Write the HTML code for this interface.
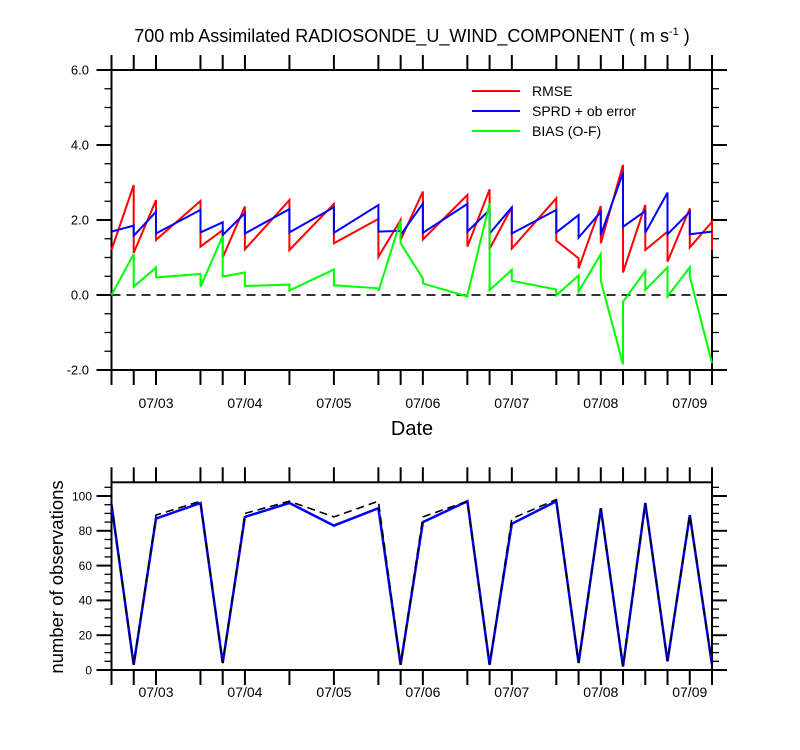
<!DOCTYPE html>
<html><head><meta charset="utf-8"><style>
body{margin:0;background:#fff;}
svg{display:block;font-family:"Liberation Sans",sans-serif;}
</style></head><body>
<svg id="chart" width="800" height="750" viewBox="0 0 800 750" xmlns="http://www.w3.org/2000/svg">
<text x="412" y="42" font-size="18" text-anchor="middle">700 mb Assimilated RADIOSONDE_U_WIND_COMPONENT ( m s<tspan font-size="11" dy="-7">-1</tspan><tspan dy="7"> )</tspan></text>
<text x="412" y="435" font-size="20" text-anchor="middle">Date</text>
<text transform="translate(63,577) rotate(-90)" font-size="18.5" text-anchor="middle">number of observations</text>
<g id="topPanel"></g>
<g id="botPanel"></g>
<g>
<line x1="472" y1="91" x2="520" y2="91" stroke="#ff0000" stroke-width="2"/>
<text x="532" y="96" font-size="14">RMSE</text>
<line x1="472" y1="111" x2="520" y2="111" stroke="#0000ff" stroke-width="2"/>
<text x="532" y="116" font-size="14">SPRD + ob error</text>
<line x1="472" y1="131" x2="520" y2="131" stroke="#00ff00" stroke-width="2"/>
<text x="532" y="136" font-size="14">BIAS (O-F)</text>
</g>
</svg>
<script>
const NS="http://www.w3.org/2000/svg";
// hours since 07/02 12Z
const obsTimes=[0,6,12,24,30,36,48,60,72,78,84,96,102,108,120,126,132,138,144,150,156,162];
const dateLabels=["07/03","07/04","07/05","07/06","07/07","07/08","07/09"];
const dateHours=[12,36,60,84,108,132,156];
const rmseArrive=[null,2.93,2.53,2.51,1.73,2.36,2.53,2.43,2.03,2.0,2.76,2.67,2.82,2.34,2.58,0.98,2.37,3.47,2.4,1.69,2.31,1.95];
const rmseLeave=[1.2,1.12,1.47,1.29,1.0,1.22,1.2,1.38,1.02,1.47,1.48,1.29,1.23,1.24,1.45,0.71,1.38,0.6,1.2,0.89,1.27,1.2];
const sprdArrive=[null,1.85,2.22,2.27,1.94,2.18,2.29,2.34,2.4,1.71,2.44,2.43,2.27,2.34,2.27,2.13,2.22,3.26,2.24,2.73,2.22,1.69];
const sprdLeave=[1.69,1.58,1.64,1.67,1.6,1.64,1.67,1.66,1.69,1.6,1.66,1.69,1.64,1.64,1.67,1.53,1.6,1.82,1.66,1.62,1.62,1.69];
const biasArrive=[null,1.09,0.73,0.56,1.57,0.6,0.28,0.68,0.18,1.98,0.44,-0.04,2.44,0.67,0.15,0.52,1.09,-1.85,0.64,0.74,0.74,-1.82];
const biasLeave=[0.0,0.22,0.47,0.22,0.49,0.24,0.12,0.26,0.1,1.38,0.31,0.0,0.13,0.38,-0.01,0.09,0.38,-0.18,0.13,-0.04,0.49,-1.82];
const obsUsed=[95,3,87,96,4,88,96,83,93,3,85,97,3,84,97,4,93,2,96,5,89,3];
const obsTotal=[96,3,89,97,4,90,97,88,97,3,88,97,3,87,98,4,93,2,96,5,89,3];
const topYTicks=[6,4,2,0,-2];
const botYTicks=[0,20,40,60,80,100];

const X0=111.5,X1=712,T1=162;
const xs=t=>X0+(X1-X0)*t/T1;
const yTop=v=>295-37.5*v;
const yBot=v=>670-1.74*v;

function mk(tag,attrs,parent){const e=document.createElementNS(NS,tag);for(const k in attrs)e.setAttribute(k,attrs[k]);parent.appendChild(e);return e;}

function panel(g,yTopPx,yBotPx,yScale,vmin,vmax,minorStep,majorStep,labelY){
  const r=mk('rect',{x:X0,y:yTopPx,width:X1-X0,height:yBotPx-yTopPx,fill:'none',stroke:'#000','stroke-width':2},g);
  
  
  obsTimes.forEach(t=>{
    const x=xs(t);
    const a=mk('line',{x1:x,y1:yTopPx,x2:x,y2:yTopPx-15,stroke:'#000','stroke-width':2},g);
    
    
    const b=mk('line',{x1:x,y1:yBotPx,x2:x,y2:yBotPx+15,stroke:'#000','stroke-width':2},g);
    
    
  });
  dateHours.forEach((h,i)=>{
    const tx=mk('text',{x:xs(h),y:labelY,'font-size':14,'text-anchor':'middle'},g);
    tx.textContent=dateLabels[i];
    
    
  });
  const n=Math.round((vmax-vmin)/minorStep);
  for(let i=0;i<=n;i++){
    const v=vmin+i*minorStep;
    const y=yScale(v);
    if(y<yTopPx-0.5)continue;
    const major=Math.abs(v/majorStep-Math.round(v/majorStep))<1e-6;
    const len=major?15:7;
    const l=mk('line',{x1:X0,y1:y,x2:X0-len,y2:y,stroke:'#000','stroke-width':major?2:1.3},g);
    
    
    const l2=mk('line',{x1:X1,y1:y,x2:X1+len,y2:y,stroke:'#000','stroke-width':major?2:1.3},g);
    
    
  }
}
function addYLabels(g,ticks,scale,fmt,x,size){
  ticks.forEach(v=>{
    const t=mk('text',{x:x,y:scale(v)+size*0.36,'font-size':size,'text-anchor':'end'},g);
    t.textContent=fmt(v);
    
    
  });
}
function sawPath(arr,lev,scale){
  let d='';
  obsTimes.forEach((t,i)=>{
    const x=xs(t).toFixed(1);
    if(arr[i]!==null) d+=(d?'L':'M')+x+','+scale(arr[i]).toFixed(1);
    if(lev[i]!==null) d+=(d?'L':'M')+x+','+scale(lev[i]).toFixed(1);
  });
  return d;
}
function linePath(vals,scale){return vals.map((v,i)=>(i?'L':'M')+xs(obsTimes[i]).toFixed(1)+','+scale(v).toFixed(1)).join('');}

const topG=document.getElementById('topPanel');
panel(topG,70,370,yTop,-2,6,0.5,2,408);
addYLabels(topG,topYTicks,yTop,v=>v.toFixed(1),89,13);
const zl=mk('line',{x1:X0,y1:yTop(0),x2:X1,y2:yTop(0),stroke:'#333','stroke-width':2,'stroke-dasharray':'9,6'},topG);


const pr=mk('path',{d:sawPath(rmseArrive,rmseLeave,yTop),fill:'none',stroke:'#ff0000','stroke-width':2},topG);


const pb=mk('path',{d:sawPath(sprdArrive,sprdLeave,yTop),fill:'none',stroke:'#0000ff','stroke-width':2},topG);


const pg=mk('path',{d:sawPath(biasArrive,biasLeave,yTop),fill:'none',stroke:'#00ff00','stroke-width':2},topG);



const botG=document.getElementById('botPanel');
panel(botG,482.3,670,yBot,0,105,5,20,697);
addYLabels(botG,botYTicks,yBot,v=>String(v),92,12);
const ou=mk('path',{d:linePath(obsUsed,yBot),fill:'none',stroke:'#0000ff','stroke-width':2.5},botG);


const ot=mk('path',{d:linePath(obsTotal,yBot),fill:'none',stroke:'#000','stroke-width':1.6,'stroke-dasharray':'8,5'},botG);


</script>
</body></html>
